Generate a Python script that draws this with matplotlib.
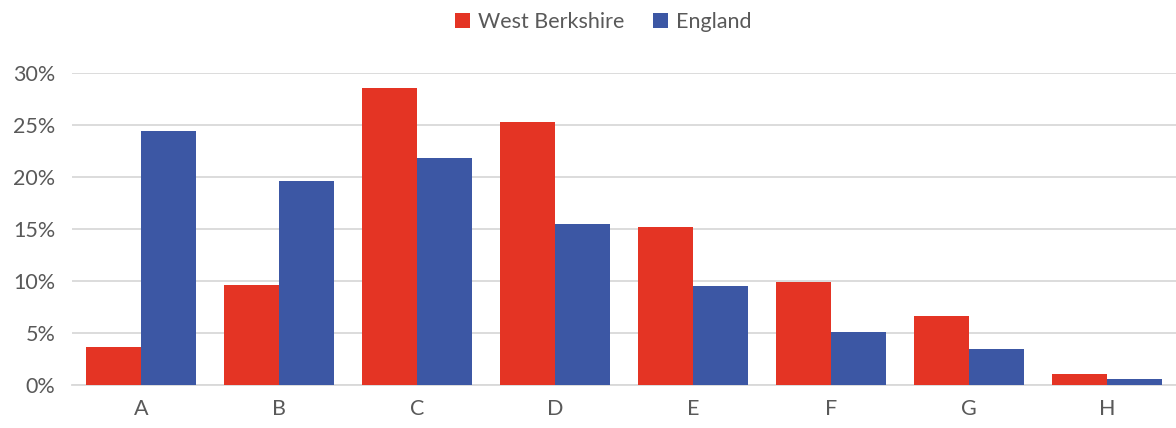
import numpy as np
import matplotlib.pyplot as plt
from matplotlib.ticker import FuncFormatter

#========================================================
# data (percent)
categories = ['A', 'B', 'C', 'D', 'E', 'F', 'G', 'H']
west_berkshire = [3.7, 9.6, 28.6, 25.3, 15.2, 9.9, 6.6, 1.1]
england = [24.4, 19.6, 21.8, 15.5, 9.5, 5.1, 3.5, 0.6]
series_names = ['West Berkshire', 'England']
#========================================================

red = '#E43424'
blue = '#3C57A4'
grey_text = '#595959'
grid_col = '#D9D9D9'

plt.rcParams['font.family'] = ['Lato', 'DejaVu Sans']

fig = plt.figure(figsize=(11.76, 4.28), dpi=100)
ax = fig.add_axes([0.0612, 0.1005, 0.9388, 0.7289])

x = np.arange(len(categories))
w = 0.4
ax.bar(x - w/2, west_berkshire, w, color=red, label=series_names[0], zorder=3)
ax.bar(x + w/2, england, w, color=blue, label=series_names[1], zorder=3)

ax.set_xlim(-0.5, len(categories) - 0.5)
ax.set_ylim(0, 30)
ax.set_yticks(np.arange(0, 31, 5))
ax.yaxis.set_major_formatter(FuncFormatter(lambda v, p: '%d%%' % v))
ax.set_xticks(x)
ax.set_xticklabels(categories)

ax.grid(axis='y', color=grid_col, linewidth=1.3, zorder=0)
for s in ['top', 'right', 'left']:
    ax.spines[s].set_visible(False)
ax.spines['bottom'].set_color(grid_col)
ax.spines['bottom'].set_linewidth(1.3)
ax.tick_params(length=0, labelsize=15.5, colors=grey_text, pad=10)
ax.tick_params(axis='y', pad=12)

fig.legend(loc='upper center', bbox_to_anchor=(0.513, 1.017), ncol=2, frameon=False,
           fontsize=15.5, labelcolor=grey_text, handlelength=0.7, handleheight=0.7,
           handletextpad=0.4, columnspacing=1.3)

fig.savefig('out.png', dpi=100)
